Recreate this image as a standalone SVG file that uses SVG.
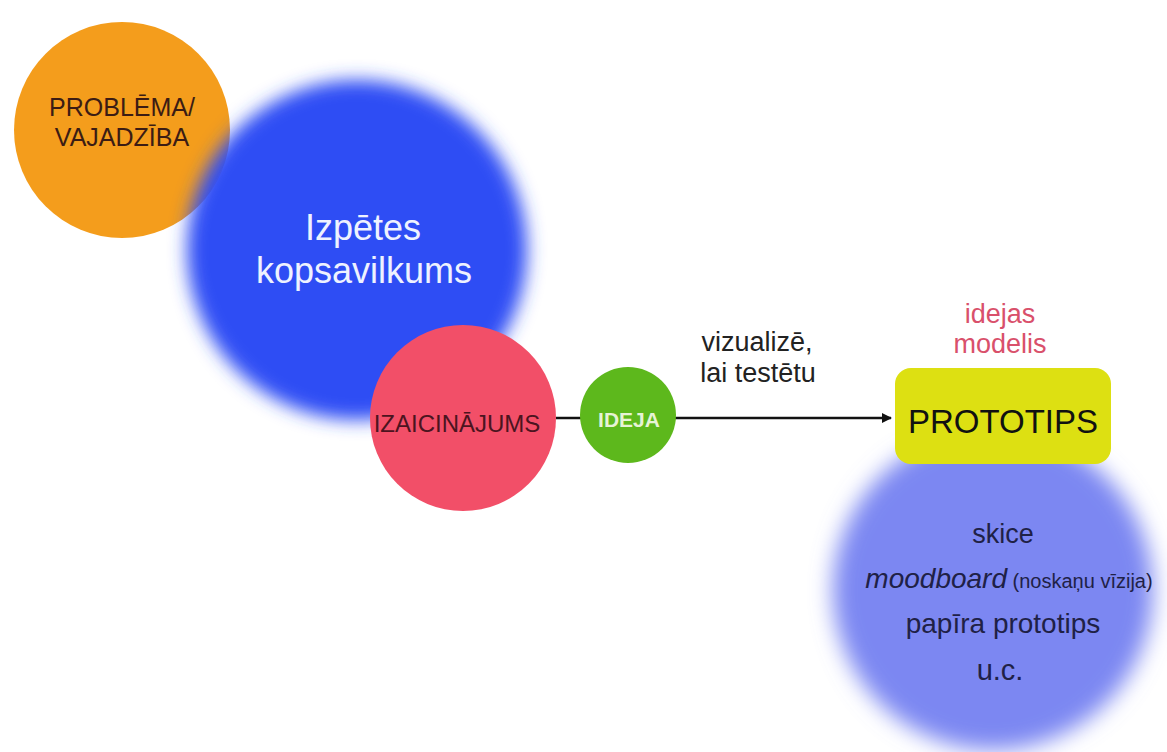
<svg xmlns="http://www.w3.org/2000/svg" width="1167" height="752" viewBox="0 0 1167 752">
<defs>
<filter id="blur1" x="-20%" y="-20%" width="140%" height="140%"><feGaussianBlur stdDeviation="9"/></filter>
<filter id="blur2" x="-20%" y="-20%" width="140%" height="140%"><feGaussianBlur stdDeviation="11"/></filter>
<marker id="arr" viewBox="0 0 10 10" refX="9" refY="5" markerWidth="4" markerHeight="4" orient="auto" markerUnits="strokeWidth"><path d="M0,0 L10,5 L0,10 z" fill="#111"/></marker>
</defs>
<style>
text{font-family:"Liberation Sans",Arial,sans-serif;text-anchor:middle}
.dark{fill:#1f2146}
</style>
<rect width="1167" height="752" fill="#ffffff"/>
<g id="problema">
<circle cx="122" cy="130" r="108" fill="#f49d1c"/>
<text x="122" y="116" font-size="25" fill="#3b1c14">PROBLĒMA/</text>
<text x="122" y="146" font-size="25" fill="#3b1c14">VAJADZĪBA</text>
</g>
<g id="izpetes">
<circle cx="357" cy="250" r="170" fill="#2e4df4" filter="url(#blur1)"/>
<text x="363" y="240" font-size="36" fill="#eef2ff">Izpētes</text>
<text x="364" y="283" font-size="36" fill="#eef2ff">kopsavilkums</text>
</g>
<g id="modeli">
<circle cx="993" cy="590" r="160" fill="#7b87f2" filter="url(#blur2)"/>
<text x="1003" y="543" font-size="27" class="dark">skice</text>
<text x="1009" y="588" font-size="28" class="dark"><tspan font-style="italic">moodboard</tspan><tspan font-size="20"> (noskaņu vīzija)</tspan></text>
<text x="1003" y="633" font-size="28" class="dark">papīra prototips</text>
<text x="1000" y="680" font-size="29" class="dark">u.c.</text>
</g>
<g id="connectors">
<line x1="556" y1="418" x2="582" y2="418" stroke="#111" stroke-width="2.5"/>
<line x1="675" y1="418" x2="891" y2="418" stroke="#111" stroke-width="2.5" marker-end="url(#arr)"/>
</g>
<g id="izaicinajums">
<circle cx="463" cy="418" r="93" fill="#f24f68"/>
<text x="457" y="432" font-size="24" fill="#4b1420">IZAICINĀJUMS</text>
</g>
<g id="ideja">
<circle cx="628" cy="415" r="48" fill="#5db81c"/>
<text x="629" y="427" font-size="21" font-weight="bold" fill="#e6f3d5">IDEJA</text>
</g>
<g id="label">
<text x="757" y="351" font-size="27" fill="#222">vizualizē,</text>
<text x="758" y="382" font-size="27" fill="#222">lai testētu</text>
</g>
<g id="prototips">
<text x="1000" y="323" font-size="27" fill="#d9506b">idejas</text>
<text x="1000" y="353" font-size="27" fill="#d9506b">modelis</text>
<rect x="895" y="368" width="216" height="96" rx="16" fill="#dde012"/>
<text x="1003" y="433" font-size="33" fill="#111">PROTOTIPS</text>
</g>
</svg>
